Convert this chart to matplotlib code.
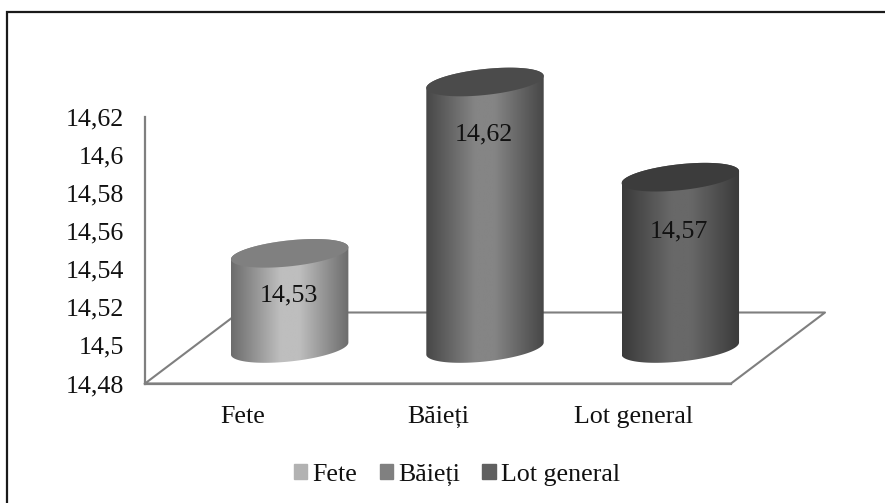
import numpy as np
import matplotlib
matplotlib.use("Agg")
import matplotlib.pyplot as plt
from matplotlib.colors import LinearSegmentedColormap
from matplotlib.lines import Line2D
from matplotlib.patches import Patch, Polygon

plt.rcParams['font.family'] = ['Liberation Serif', 'DejaVu Sans']

categories = ['Fete', 'Băieți', 'Lot general']
values = [14.53, 14.62, 14.57]
value_labels = ['14,53', '14,62', '14,57']
yticks = [14.48, 14.5, 14.52, 14.54, 14.56, 14.58, 14.6, 14.62]
ytick_labels = ['14,48', '14,5', '14,52', '14,54', '14,56', '14,58', '14,6', '14,62']

edge_colors = ['#6c6c6c', '#474747', '#3a3a3a']
mid_colors = ['#bebebe', '#858585', '#686868']
top_colors = ['#808080', '#4b4b4b', '#3c3c3c']
legend_colors = ['#b2b2b2', '#808080', '#606060']
label_drop = [42, 52, 54]

W, H = 885, 503
fig = plt.figure(figsize=(W / 100, H / 100), dpi=100)

# the plot box is the front face of the floor, everything else hangs off it
left, right, top, bottom = 145, 731, 117, 383.5
ax = fig.add_axes([left / W, 1 - bottom / H, (right - left) / W, (bottom - top) / H])
ax.set_xlim(-0.5, 2.5)
ax.set_ylim(14.48, 14.62)
ax.patch.set_alpha(0)

px = 3 / (right - left)          # one pixel along x, in data units
py = 0.14 / (bottom - top)       # one pixel along y, in data units

grey = '#7f7f7f'
floor_x = [-0.5, -0.5 + 94 * px, 2.5 + 94 * px, 2.5, -0.5]
floor_y = [14.48, 14.48 + 71 * py, 14.48 + 71 * py, 14.48, 14.48]
ax.add_line(Line2D(floor_x, floor_y, color=grey, lw=1.5, clip_on=False, zorder=1))

for s in ['top', 'right']:
    ax.spines[s].set_visible(False)
for s in ['left', 'bottom']:
    ax.spines[s].set_color(grey)
    ax.spines[s].set_linewidth(1.6)

ax.set_yticks(yticks)
ax.set_yticklabels(ytick_labels, fontsize=18.7, color='#111111')
ax.set_xticks(range(3))
ax.set_xticklabels(categories, fontsize=18.7, color='#111111')
ax.tick_params(axis='y', length=0, pad=15)
ax.tick_params(axis='x', length=0, pad=16)

# cylinders stand in the middle of the floor
dx = 47 * px
dy = 35 * py
rx = 58.7 * px
ry = 13 * py
skew = 6 * py
t = np.linspace(0, 2 * np.pi, 200)
base = 14.48 + dy

for i, v in enumerate(values):
    cx = i + dx
    ex = cx + rx * np.cos(t)
    etop = v + dy + ry * np.sin(t) + skew * np.cos(t)
    ebot = base + ry * np.sin(t) + skew * np.cos(t)

    lower = t >= np.pi
    upper = t <= np.pi
    body = np.column_stack([
        np.concatenate([ex[lower], ex[upper]]),
        np.concatenate([ebot[lower], etop[upper]]),
    ])
    clip = Polygon(body, closed=True, transform=ax.transData, fc='none', ec='none', clip_on=False)
    ax.add_patch(clip)

    # quick fall-off at the rims, flatter across the middle
    cmap = LinearSegmentedColormap.from_list('cyl', [
        (0, edge_colors[i]), (0.42, mid_colors[i]), (0.58, mid_colors[i]), (1, edge_colors[i])])
    shade = np.linspace(0, 1, 256).reshape(1, -1)
    im = ax.imshow(shade, cmap=cmap, aspect='auto', zorder=2, interpolation='bilinear',
                   extent=[cx - rx, cx + rx, base - 20 * py, v + dy + 20 * py])
    # the taller cylinders rise above the axes box
    im.set_clip_box(fig.bbox)
    im.set_clip_path(clip)

    ax.fill(ex, etop, color=top_colors[i], lw=0, zorder=3, clip_on=False)
    ax.text(cx - 1 * px, v + dy - label_drop[i] * py, value_labels[i], fontsize=18.7, color='#111111',
            ha='center', va='center', zorder=4, clip_on=False)

ax.set_xlim(-0.5, 2.5)
ax.set_ylim(14.48, 14.62)

handles = [Patch(color=c, label=l) for c, l in zip(legend_colors, categories)]
fig.legend(handles=handles, ncol=3, frameon=False, fontsize=18.7, loc='center',
           bbox_to_anchor=(457 / W, 1 - 475 / H), handlelength=0.52, handleheight=0.52,
           handletextpad=0.2, columnspacing=0.85, labelcolor='#111111')

# only the top and left border lines are there, running off the edges
fig.add_artist(Line2D([6.5 / W, 6.5 / W, 1], [0, 1 - 11.5 / H, 1 - 11.5 / H], color='#1a1a1a',
                      lw=1.6, transform=fig.transFigure, solid_joinstyle='miter'))

fig.savefig('out.png', dpi=100)
